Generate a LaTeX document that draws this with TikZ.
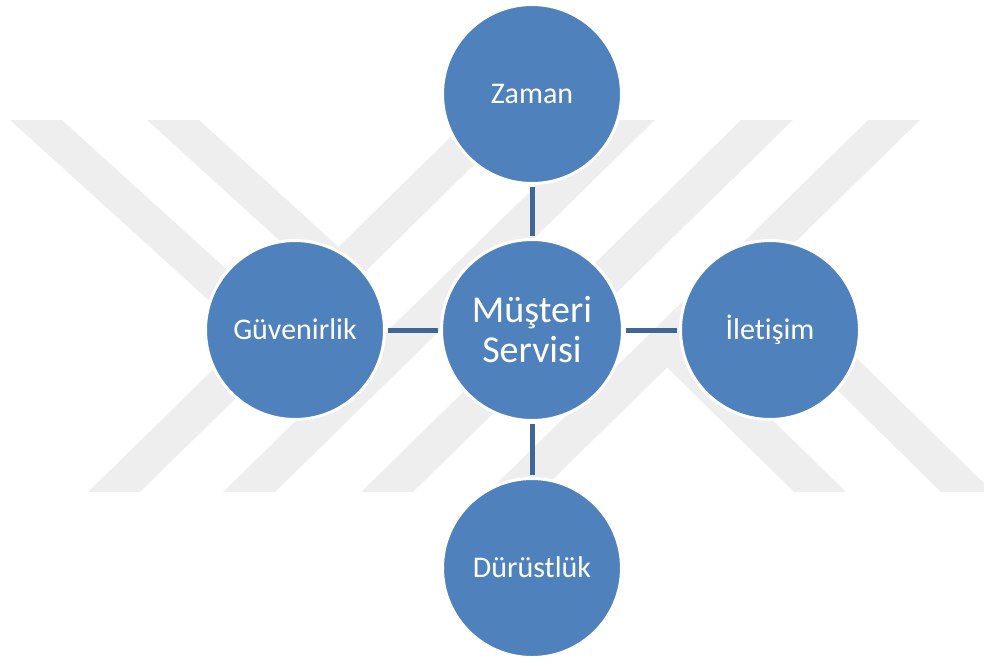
\documentclass[tikz,border=0pt]{standalone}
\usepackage{fontspec}
\setmainfont{Carlito}[Ligatures={NoCommon}]
\definecolor{markgray}{HTML}{EEEEEE}
\definecolor{bubbleblue}{HTML}{4F81BD}
\definecolor{linkblue}{HTML}{3F6695}

\begin{document}
\begin{tikzpicture}[x=1pt,y=-1pt,
  band/.style={fill=markgray, draw=none},
  bubble/.style={circle, fill=bubbleblue, draw=white, line width=3pt,
    minimum size=179pt, inner sep=0pt, text=white,
    font=\fontsize{30}{36}\selectfont, text height=19.3pt, text depth=0pt},
  hub/.style={bubble, minimum size=181pt, align=center,
    font=\fontsize{38}{40}\selectfont, text height=64.5pt, text depth=0pt},
  link/.style={draw=linkblue, line width=5pt, shorten >=2pt, shorten <=2pt}]
\useasboundingbox (0,0) rectangle (984,662);
\clip (0,0) rectangle (984,662);

% light watermark behind the diagram: four rising bands
\fill[band] (88,492) -- (140,492) -- (520,120) -- (468,120) -- cycle;
\fill[band] (223,492) -- (275,492) -- (655,120) -- (603,120) -- cycle;
\fill[band] (361,492) -- (413,492) -- (793,120) -- (741,120) -- cycle;
\fill[band] (488,492) -- (540,492) -- (920,120) -- (868,120) -- cycle;
% short falling bands joined to the outer rising bands
\fill[band] (10,120) -- (62,120) -- (300,336) -- (248,336) -- cycle;
\fill[band] (147,120) -- (199,120) -- (365,271) -- (313,271) -- cycle;
\fill[band] (794,492) -- (846,492) -- (693,342) -- (641,342) -- cycle;
\fill[band] (941,492) -- (993,492) -- (767,270) -- (715,270) -- cycle;

% circles
\node[hub]    (hub)    at (532,330) {Müşteri\\Servisi};
\node[bubble] (zaman)  at (532,94)  {Zaman};
\node[bubble] (guven)  at (295,330) {Güvenirlik};
\node[bubble] (ilet)   at (770,330) {İletişim};
\node[bubble] (durust) at (532,568) {Dürüstlük};

% spokes
\draw[link] (zaman) -- (hub);
\draw[link] (guven) -- (hub);
\draw[link] (hub) -- (ilet);
\draw[link] (hub) -- (durust);
\end{tikzpicture}
\end{document}
